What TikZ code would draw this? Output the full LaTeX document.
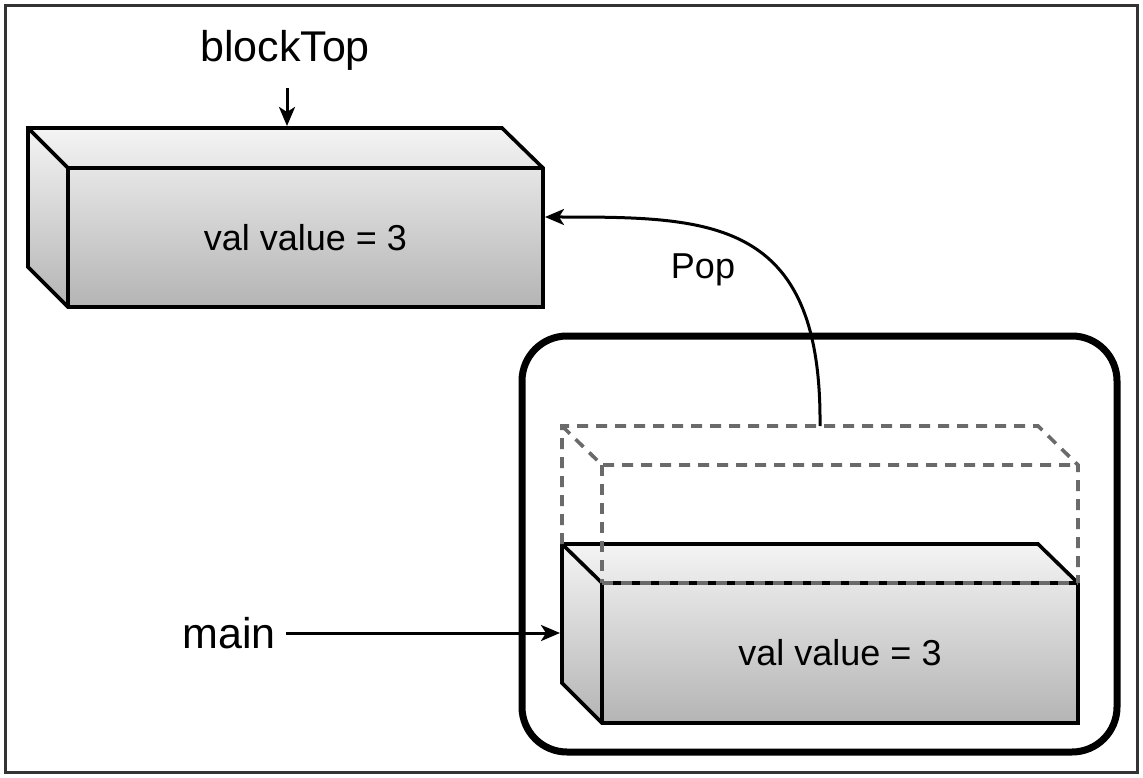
\documentclass[tikz,border=0pt]{standalone}
\usepackage{fontspec}
\setmainfont{Liberation Sans}
\usetikzlibrary{arrows.meta}
\definecolor{framegray}{HTML}{333333}
\definecolor{dashgray}{HTML}{6A6A6A}
\definecolor{cubetop}{HTML}{F4F4F4}
\definecolor{cubebot}{HTML}{B4B4B4}
\tikzset{
  cubeline/.style={line width=3.6pt, line join=miter},
  ghost/.style={line width=3.6pt, draw=dashgray, dash pattern=on 11pt off 8pt},
  conn/.style={line width=3pt, -{Stealth[length=19pt,width=16pt,inset=5pt]}},
  lbl/.style={inner sep=0pt, font=\fontsize{43}{50}\selectfont},
  vlbl/.style={inner sep=0pt, font=\fontsize{36}{42}\selectfont},
  face/.style={inner sep=0pt, draw=none}
}
\begin{document}
\begin{tikzpicture}[x=1pt,y=-1pt]
\useasboundingbox (0,0) rectangle (1143,778);
\fill[white] (0,0) rectangle (1143,778);
\draw[framegray, line width=3.5pt] (5.5,5.5) rectangle (1137.5,772.5);

% top cube
\shade[top color=cubetop, bottom color=cubebot] (28,128) -- (502,128) -- (543,168) -- (543,307) -- (68,307) -- (28,267) -- cycle;
\draw[cubeline] (28,128) -- (502,128) -- (543,168) -- (543,307) -- (68,307) -- (28,267) -- cycle;
\draw[cubeline] (28,128) -- (68,168) -- (543,168);
\draw[cubeline] (68,168) -- (68,307);
\node[face, minimum width=475pt, minimum height=139pt] (topfront) at (305.5,237.5) {};
\node[vlbl] (topval) at (305.5,237.5) {val value = 3};

% blockTop label
\node[lbl] (blocktop) at (285,50) {blockTop};
\coordinate (topback) at (287,126);
\draw[conn] (287,88) -- (topback);

% container
\draw[line width=7pt, rounded corners=45pt] (522,336) rectangle (1117,752);

% bottom cube
\shade[top color=cubetop, bottom color=cubebot] (562,544) -- (1038,544) -- (1078,583) -- (1078,723) -- (602,723) -- (562,683) -- cycle;
\draw[cubeline] (562,544) -- (1038,544) -- (1078,583) -- (1078,723) -- (602,723) -- (562,683) -- cycle;
\draw[cubeline] (562,544) -- (602,583) -- (1078,583);
\draw[cubeline] (602,583) -- (602,723);
\node[face, minimum width=476pt, minimum height=140pt] (botfront) at (840,653) {};
\node[vlbl] (botval) at (840,653) {val value = 3};
\coordinate (botleft) at (560,633);

% ghost cube (dashed)
\draw[ghost] (562,544) -- (562,426) -- (1038,426) -- (1078,465) -- (1078,583);
\draw[ghost] (562,426) -- (602,465) -- (1078,465);
\draw[ghost] (602,465) -- (602,583);
\draw[ghost] (602,583) -- (1078,583);
\coordinate (ghosttop) at (820,426);

% main label
\node[lbl] (main) at (229,633) {main};
\draw[conn] (286,633) -- (botleft);

% Pop
\coordinate (popend) at (545,217);
\draw[conn] (ghosttop) .. controls (822,217) and (710,217) .. (popend);
\node[vlbl] (pop) at (703,270) {Pop};
\end{tikzpicture}
\end{document}
